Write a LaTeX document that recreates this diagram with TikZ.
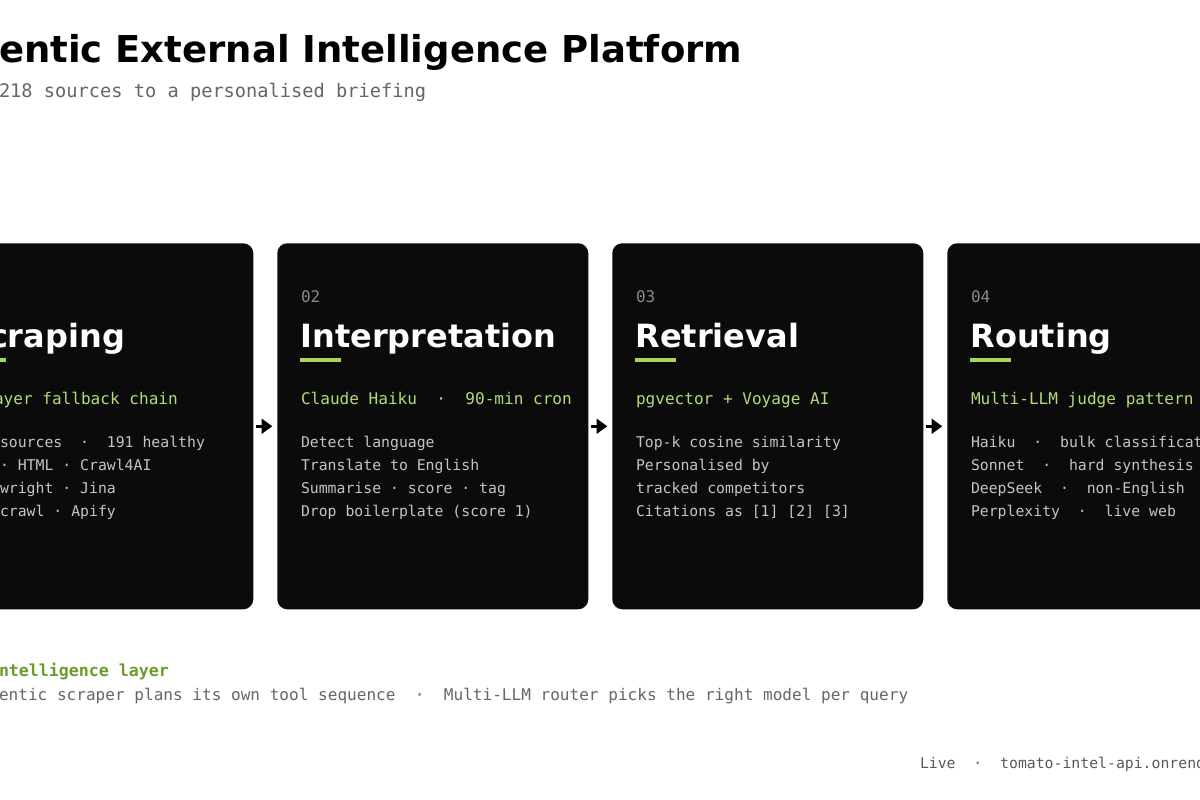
\documentclass[tikz,border=0pt]{standalone}
\usepackage{fontspec}
\setmainfont{DejaVu Sans}
\setmonofont{DejaVu Sans Mono}
\usetikzlibrary{arrows.meta}
\definecolor{cardbg}{HTML}{0B0B0B}
\definecolor{accent}{HTML}{A6D65E}
\definecolor{greentxt}{HTML}{B0DC7A}
\definecolor{bodytxt}{HTML}{C4C4C4}
\definecolor{numtxt}{HTML}{8A8A8A}
\definecolor{subtxt}{HTML}{666666}
\definecolor{layergreen}{HTML}{6A9E2A}
\definecolor{foottxt}{HTML}{5A5A5A}
\tikzset{
  card/.style={rectangle, fill=cardbg, draw=none, rounded corners=7.5pt,
    minimum width=233.25pt, minimum height=274.5pt, inner sep=0pt, anchor=north west},
  txt/.style={anchor=base west, inner sep=0pt, outer sep=0pt},
  maintitle/.style={txt, font=\bfseries\fontsize{27.75}{32}\selectfont, text=black},
  subtitle/.style={txt, font=\ttfamily\fontsize{14}{16}\selectfont, text=subtxt},
  stepnum/.style={txt, font=\ttfamily\fontsize{12}{14}\selectfont, text=numtxt},
  steptitle/.style={txt, font=\bfseries\fontsize{24}{28}\selectfont, text=white},
  steptag/.style={txt, font=\ttfamily\fontsize{12.05}{14}\selectfont, text=greentxt},
  stepbody/.style={txt, font=\ttfamily\fontsize{11.1}{13}\selectfont, text=bodytxt},
  layerhead/.style={txt, font=\ttfamily\bfseries\fontsize{12.45}{15}\selectfont, text=layergreen},
  layerbody/.style={txt, font=\ttfamily\fontsize{12.05}{15}\selectfont, text=subtxt},
  foot/.style={txt, font=\ttfamily\fontsize{11.1}{13}\selectfont, text=foottxt},
  accentbar/.style={draw=accent, line width=2.6pt},
  flow/.style={draw=black, line width=2.2pt, -{Triangle[length=8pt,width=11pt]}, shorten <=1.5pt, shorten >=3.5pt}
}
\begin{document}
\begin{tikzpicture}[x=0.75pt,y=-0.75pt]
\useasboundingbox (0,0) rectangle (1200,800);
\clip (0,0) rectangle (1200,800);
\fill[white] (0,0) rectangle (1200,800);

% header
\node[maintitle] (title) at (-1,62) {entic External Intelligence Platform};
\node[subtitle] (sub) at (-1,97.5) {218 sources to a personalised briefing};

% cards
\node[card] (c1) at (-58,243) {};
\node[card] (c2) at (277,243) {};
\node[card] (c3) at (612,243) {};
\node[card] (c4) at (947,243) {};

% connectors
\draw[flow] (c1.east) -- (c2.west);
\draw[flow] (c2.east) -- (c3.west);
\draw[flow] (c3.east) -- (c4.west);

% card 1
\node[steptitle] (t1) at (-11,347) {craping};
\draw[accentbar] (-35,360) -- (6,360);
\node[steptag] (g1) at (-6,404) {ayer fallback chain};
\node[stepbody] (b1a) at (0,447) {sources\ \ ·\ \ 191 healthy};
\node[stepbody] (b1b) at (0,470) {· HTML · Crawl4AI};
\node[stepbody] (b1c) at (0,493) {wright · Jina};
\node[stepbody] (b1d) at (0,516) {crawl · Apify};

% card 2
\node[stepnum] (n2) at (301,302) {02};
\node[steptitle] (t2) at (300.5,347) {Interpretation};
\draw[accentbar] (300,360) -- (341,360);
\node[steptag] (g2) at (301,404) {Claude Haiku\ \ ·\ \ 90-min cron};
\node[stepbody] (b2a) at (301,447) {Detect language};
\node[stepbody] (b2b) at (301,470) {Translate to English};
\node[stepbody] (b2c) at (301,493) {Summarise · score · tag};
\node[stepbody] (b2d) at (301,516) {Drop boilerplate (score 1)};

% card 3
\node[stepnum] (n3) at (636,302) {03};
\node[steptitle] (t3) at (635.5,347) {Retrieval};
\draw[accentbar] (635,360) -- (676,360);
\node[steptag] (g3) at (636,404) {pgvector + Voyage AI};
\node[stepbody] (b3a) at (636,447) {Top-k cosine similarity};
\node[stepbody] (b3b) at (636,470) {Personalised by};
\node[stepbody] (b3c) at (636,493) {tracked competitors};
\node[stepbody] (b3d) at (636,516) {Citations as [1] [2] [3]};

% card 4
\node[stepnum] (n4) at (971,302) {04};
\node[steptitle] (t4) at (970.5,347) {Routing};
\draw[accentbar] (970,360) -- (1011,360);
\node[steptag] (g4) at (971,404) {Multi-LLM judge pattern};
\node[stepbody] (b4a) at (971,447) {Haiku\ \ ·\ \ bulk classificat};
\node[stepbody] (b4b) at (971,470) {Sonnet\ \ ·\ \ hard synthesis};
\node[stepbody] (b4c) at (971,493) {DeepSeek\ \ ·\ \ non-English};
\node[stepbody] (b4d) at (971,516) {Perplexity\ \ ·\ \ live web};

% bottom
\node[layerhead] (lh) at (-1,676) {ntelligence layer};
\node[layerbody] (lb) at (-1,700) {entic scraper plans its own tool sequence\ \ ·\ \ Multi-LLM router picks the right model per query};
\node[foot] (ft) at (920,768) {Live\ \ ·\ \ tomato-intel-api.onrend};
\end{tikzpicture}
\end{document}
